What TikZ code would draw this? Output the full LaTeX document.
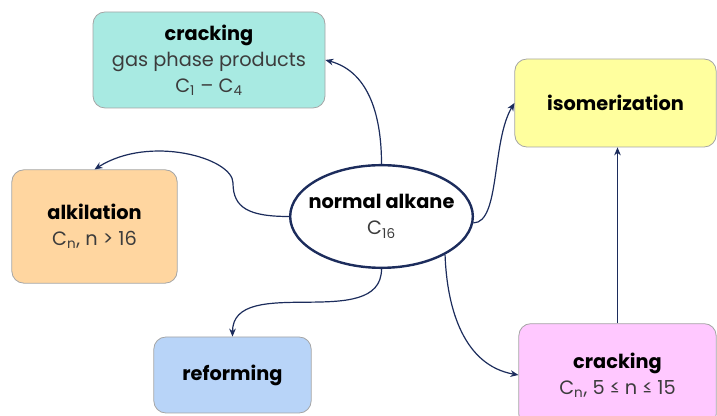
\documentclass[tikz,border=0pt]{standalone}
\usepackage{fontspec}
\setmainfont{Poppins}
\usepackage{xcolor}
\usepackage{tikz}
\usetikzlibrary{shapes.geometric, arrows.meta, positioning}
\definecolor{CrackTeal}{RGB}{168, 234, 226}
\definecolor{IsoYellow}{RGB}{255, 255, 158}
\definecolor{AlkOrange}{RGB}{255, 214, 160}
\definecolor{RefBlue}{RGB}{184, 212, 248}
\definecolor{CrackPink}{RGB}{255, 200, 255}
\definecolor{BoxGray}{RGB}{165, 165, 165}
\definecolor{LinkNavy}{RGB}{28, 44, 92}
\definecolor{TextGray}{RGB}{60, 60, 60}

\tikzset{
  procbox/.style={rounded corners=9pt, draw=BoxGray, line width=0.6pt,
    align=center, inner sep=2pt, font=\fontsize{14.5}{19.5}\selectfont},
  alkane/.style={ellipse, draw=LinkNavy, fill=white, line width=1.8pt,
    align=center, inner xsep=-7pt, inner ysep=0pt, font=\fontsize{14.5}{19.5}\selectfont},
  link/.style={draw=LinkNavy, line width=0.9pt, -{Stealth[length=6pt, width=5pt]}}
}

\begin{document}
\begin{tikzpicture}[x=0.75pt, y=0.75pt]
  \useasboundingbox (0,0) rectangle (717,416);

  % centre of the map
  \node[alkane, minimum width=137pt, minimum height=77pt] (alk) at (381.5,199.5)
    {\textbf{normal alkane}\\{\color{TextGray}C\textsubscript{16}}};

  % products
  \node[procbox, fill=CrackTeal, minimum width=174pt, minimum height=72pt] (crackgas) at (209,356)
    {\textbf{cracking}\\{\color{TextGray}gas phase products}\\{\color{TextGray}C\textsubscript{1} – C\textsubscript{4}}};
  \node[procbox, fill=IsoYellow, minimum width=151pt, minimum height=66pt] (isom) at (615.5,313)
    {\textbf{isomerization}};
  \node[procbox, fill=AlkOrange, minimum width=124pt, minimum height=85pt] (alkyl) at (94.5,189.5)
    {\textbf{alkilation}\\{\color{TextGray}C\textsubscript{n}, n > 16}};
  \node[procbox, fill=RefBlue, minimum width=118pt, minimum height=57pt] (reform) at (232.5,41)
    {\textbf{reforming}};
  \node[procbox, fill=CrackPink, minimum width=148pt, minimum height=77pt] (crackliq) at (617.5,41)
    {\textbf{cracking}\\{\color{TextGray}C\textsubscript{n}, 5 ≤ n ≤ 15}};

  % links
  \draw[link] (alk.north) to[out=90, in=-15] (crackgas.east);
  \coordinate (kink) at (233,233);
  \draw[link] (alk.west) .. controls +(-40,0) and +(0,-25) .. (kink)
    .. controls +(0,25) and +(55,35) .. (alkyl.north);
  \draw[link] (alk.south) to[out=-90, in=90] (reform.north);
  \draw[link] (alk.-4) .. controls +(27,0) and +(-23,-38) .. (isom.west);
  \draw[link] (alk.-31) to[out=-88, in=170] (crackliq.west);
  \draw[link] (crackliq.north) -- (crackliq.north |- isom.south);
\end{tikzpicture}
\end{document}
